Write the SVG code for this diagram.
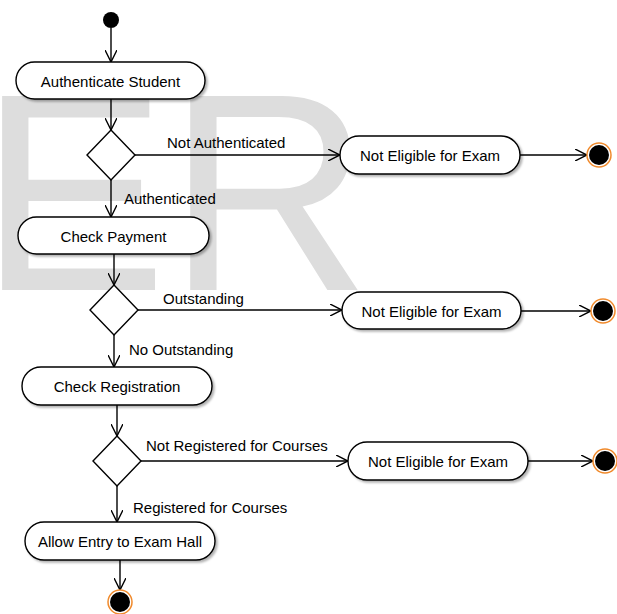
<svg xmlns="http://www.w3.org/2000/svg" width="617" height="614" viewBox="0 0 617 614">
<style>
  .act { fill: #ffffff; stroke: #000000; stroke-width: 1.4; filter: url(#sh); }
  .dec { fill: #ffffff; stroke: #000000; stroke-width: 1.4; }
  .t { font-family: "Liberation Sans", Arial, sans-serif; font-size: 15px; fill: #000000; }
  .c { text-anchor: middle; }
  .edge { stroke: #000000; stroke-width: 1.4; fill: none; marker-end: url(#arr); }
  .fin-ring { fill: #ffffff; stroke: #f08a2c; stroke-width: 1.5; }
  .wm { font-family: "Liberation Sans", Arial, sans-serif; font-size: 282px; fill: #dddddd; }
</style>
<defs>
  <marker id="arr" viewBox="0 0 12 12" refX="12" refY="6" markerWidth="12" markerHeight="12" markerUnits="userSpaceOnUse" orient="auto">
    <path d="M0,0 L12,6 L0,12" fill="none" stroke="#000000" stroke-width="1.4"/>
  </marker>
  <filter id="sh" x="-10%" y="-20%" width="130%" height="160%">
    <feDropShadow dx="2" dy="2" stdDeviation="1" flood-color="#000000" flood-opacity="0.3"/>
  </filter>
</defs>
<rect width="617" height="614" fill="#ffffff"/>
<text class="wm" x="-21" y="290">ER</text>

<g id="connectors">
  <line class="edge" x1="111" y1="28" x2="111" y2="62"/>
  <line class="edge" x1="111" y1="99" x2="111" y2="130"/>
  <line class="edge" x1="135" y1="155" x2="340" y2="155"/>
  <line class="edge" x1="520" y1="155" x2="587" y2="155"/>
  <line class="edge" x1="111" y1="180" x2="111" y2="217"/>
  <line class="edge" x1="114" y1="254" x2="114" y2="285"/>
  <line class="edge" x1="138" y1="310" x2="342" y2="310"/>
  <line class="edge" x1="521" y1="311" x2="591" y2="311"/>
  <line class="edge" x1="114" y1="335" x2="114" y2="367"/>
  <line class="edge" x1="117" y1="405" x2="117" y2="436"/>
  <line class="edge" x1="141" y1="461" x2="348" y2="461"/>
  <line class="edge" x1="528" y1="461" x2="593" y2="461"/>
  <line class="edge" x1="117" y1="486" x2="117" y2="522"/>
  <line class="edge" x1="120" y1="560" x2="120" y2="590"/>
  <text class="t" x="167" y="148">Not Authenticated</text>
  <text class="t" x="124" y="204">Authenticated</text>
  <text class="t" x="163" y="304">Outstanding</text>
  <text class="t" x="129" y="355">No Outstanding</text>
  <text class="t" x="146" y="451">Not Registered for Courses</text>
  <text class="t" x="133" y="513">Registered for Courses</text>
</g>

<g id="start"><circle cx="111" cy="20" r="8" fill="#000000"/></g>

<g id="authenticate">
  <rect class="act" x="16" y="62" width="189" height="37" rx="18.5"/>
  <text class="t c" x="110.5" y="87">Authenticate Student</text>
</g>
<g id="decision1"><polygon class="dec" points="111,130 135,155 111,180 87,155"/></g>
<g id="noteligible1">
  <rect class="act" x="340" y="136" width="180" height="38" rx="19"/>
  <text class="t c" x="430" y="161">Not Eligible for Exam</text>
</g>
<g id="final1"><circle class="fin-ring" cx="599" cy="155" r="12"/><circle cx="599" cy="155" r="10" fill="#000000"/></g>

<g id="checkpayment">
  <rect class="act" x="18" y="217" width="191" height="37" rx="18.5"/>
  <text class="t c" x="113.5" y="242">Check Payment</text>
</g>
<g id="decision2"><polygon class="dec" points="114,285 138,310 114,335 90,310"/></g>
<g id="noteligible2">
  <rect class="act" x="342" y="292" width="179" height="37" rx="18.5"/>
  <text class="t c" x="431.5" y="317">Not Eligible for Exam</text>
</g>
<g id="final2"><circle class="fin-ring" cx="603" cy="311" r="12"/><circle cx="603" cy="311" r="10" fill="#000000"/></g>

<g id="checkregistration">
  <rect class="act" x="22" y="367" width="190" height="38" rx="19"/>
  <text class="t c" x="117" y="392">Check Registration</text>
</g>
<g id="decision3"><polygon class="dec" points="117,436 141,461 117,486 93,461"/></g>
<g id="noteligible3">
  <rect class="act" x="348" y="442" width="180" height="38" rx="19"/>
  <text class="t c" x="438" y="467">Not Eligible for Exam</text>
</g>
<g id="final3"><circle class="fin-ring" cx="605" cy="461" r="12"/><circle cx="605" cy="461" r="10" fill="#000000"/></g>

<g id="allowentry">
  <rect class="act" x="25" y="522" width="190" height="38" rx="19"/>
  <text class="t c" x="120" y="547">Allow Entry to Exam Hall</text>
</g>
<g id="final4"><circle class="fin-ring" cx="120" cy="602" r="12"/><circle cx="120" cy="602" r="10" fill="#000000"/></g>
</svg>
